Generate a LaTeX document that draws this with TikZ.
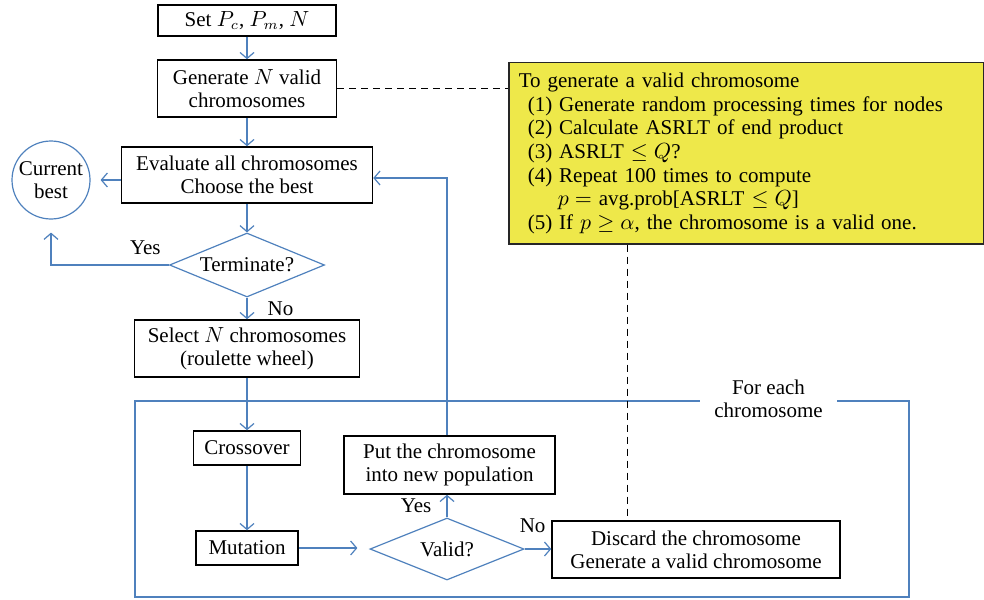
\documentclass[tikz,border=0pt]{standalone}
\usepackage{fontspec}
\setmainfont{Liberation Serif}
\usepackage{amsmath}
\usetikzlibrary{shapes,arrows.meta,positioning,calc}
\definecolor{flowblue}{RGB}{79,129,189}
\definecolor{noteyellow}{RGB}{238,232,74}
\tikzset{
  procbox/.style={draw=black, line width=0.75pt, align=center, inner sep=2pt},
  decision/.style={diamond, draw=flowblue, line width=0.6pt, inner sep=0pt, shape aspect=2.4, align=center},
  flow/.style={draw=flowblue, line width=0.6pt, -{Straight Barb[length=3pt,width=7pt]}},
  link/.style={draw=flowblue, line width=0.6pt},
  notelink/.style={draw=black, line width=0.5pt, dash pattern=on 3.5pt off 2.5pt},
  lbl/.style={inner sep=1pt},
}

\begin{document}
\begin{tikzpicture}[x=0.5pt, y=-0.5pt, every node/.append style={font=\fontsize{10.5}{11.5}\selectfont}]
\useasboundingbox (0,0) rectangle (984,599);

% main column
\node[procbox, minimum width=89pt, minimum height=15.5pt] (set) at (247,20.5) {Set $P_c$, $P_m$, $N$};
\node[procbox, minimum width=89.5pt, minimum height=28.5pt] (gen) at (247,88.5) {Generate $N$ valid\\chromosomes};
\node[procbox, minimum width=125.5pt, minimum height=28pt] (eval) at (247,175) {Evaluate all chromosomes\\Choose the best};
\node[circle, draw=flowblue, line width=0.6pt, minimum size=39pt, inner sep=0pt, align=center] (best) at (51,180) {Current\\best};
\node[decision, minimum width=77.5pt, minimum height=32pt] (term) at (247,265) {Terminate?};
\node[procbox, minimum width=112.5pt, minimum height=28.5pt] (sel) at (247,348.5) {Select $N$ chromosomes\\(roulette wheel)};

% loop over the chromosomes
\draw[link] (135,401) rectangle (909,597);
\node[fill=white, align=center, inner xsep=7pt, inner ysep=1pt] (each) at (768.5,399) {For each\\chromosome};

\node[procbox, minimum width=53.5pt, minimum height=17pt] (cross) at (247,448) {Crossover};
\node[procbox, minimum width=51pt, minimum height=17pt] (mut) at (247,548) {Mutation};
\node[decision, minimum width=77pt, minimum height=31pt] (valid) at (447,549) {Valid?};
\node[procbox, minimum width=105.5pt, minimum height=29pt] (put) at (449.5,465) {Put the chromosome\\into new population};
\node[procbox, minimum width=144pt, minimum height=28.5pt] (disc) at (696,549.5) {Discard the chromosome\\Generate a valid chromosome};

% note
\node[draw=black!85, fill=noteyellow, line width=0.75pt, anchor=north west, text width=227.5pt, minimum height=87pt, inner sep=5pt, align=left, font=\fontsize{10.5}{11.85}\selectfont] (note) at (508,62) {To generate a valid chromosome\\
\hspace*{4.5pt}(1) Generate random processing times for nodes\\
\hspace*{4.5pt}(2) Calculate ASRLT of end product\\
\hspace*{4.5pt}(3) ASRLT $\leq Q$?\\
\hspace*{4.5pt}(4) Repeat 100 times to compute\\
\hspace*{19.5pt}$p=$ avg.prob[ASRLT $\leq Q$]\\
\hspace*{4.5pt}(5) If $p\geq\alpha$, the chromosome is a valid one.};

% connectors
\draw[flow] (set) -- (gen);
\draw[flow] (gen) -- (eval);
\draw[flow, shorten >=5pt] (best.east -| eval.west) -- (best.east);
\draw[flow] (eval) -- (term);
\draw[flow, shorten >=6.5pt] (term.west) -| node[lbl, pos=0.1, above=4pt] {Yes} (best.south);
\draw[flow] (term) -- node[lbl, right=9pt] {No} (sel);
\draw[flow] (sel) -- (cross);
\draw[flow] (cross) -- (mut);
\draw[flow, shorten >=6pt] (mut) -- (mut -| valid.west);
\draw[flow] (valid) -- node[lbl, left=6.5pt] {Yes} (valid |- put.south);
\draw[flow] (valid.east) -- node[lbl, pos=0.3, above=7pt] {No} (valid.east -| disc.west);
\draw[flow] (valid |- put.north) |- ([yshift=-1.5pt]eval.east);

\coordinate (tap) at ($(note.south west)!0.25!(note.south east)$);
\draw[notelink] (gen.east) -- (gen.east -| note.west);
\draw[notelink] (tap) -- (tap |- disc.north);
\end{tikzpicture}
\end{document}
